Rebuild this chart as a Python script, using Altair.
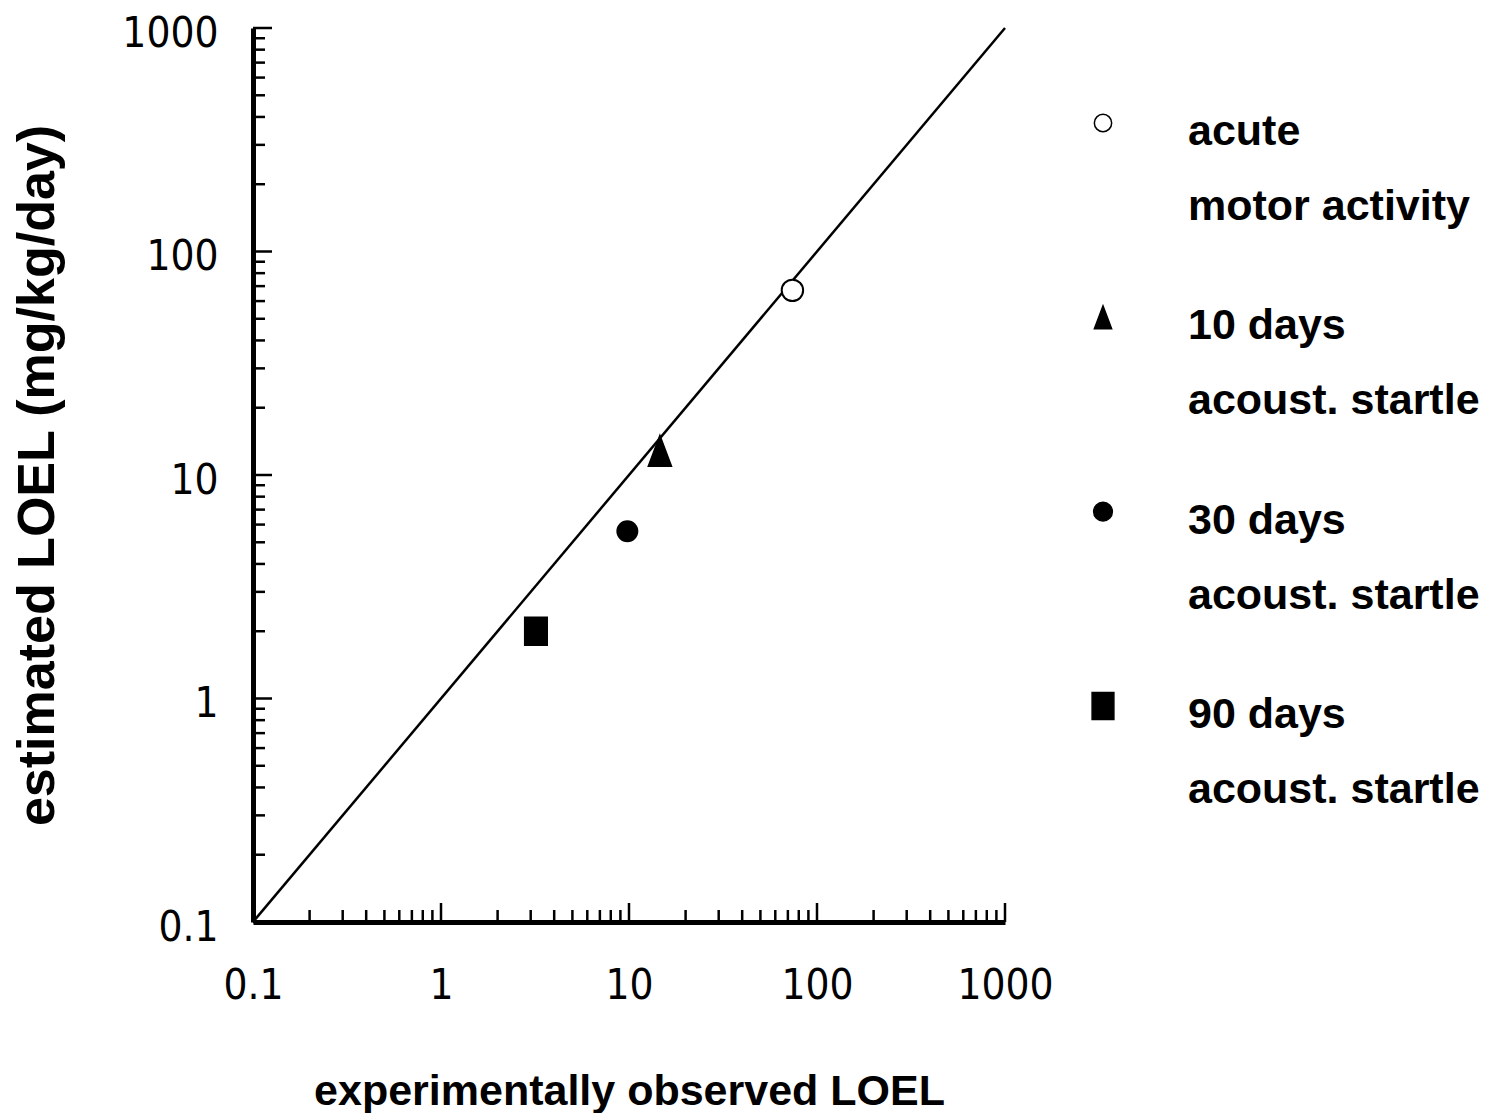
import altair as alt
import pandas as pd

# ---- data ----
series = ["acute", "10 days", "30 days", "90 days"]
series_desc = ["motor activity", "acoust. startle", "acoust. startle", "acoust. startle"]
observed_loel = [74, 14.6, 9.8, 3.2]
estimated_loel = [67, 12.8, 5.6, 2.0]
identity_x = [0.1, 1000]
identity_y = [0.1, 1000]
decade_ticks = [0.1, 1, 10, 100, 1000]
minor_ticks = [round(m * d, 6) for d in decade_ticks[:-1] for m in range(2, 10)]

# ---- styles ----
shape_range = ["circle", "M-0.75,1L0.75,1L0,-1Z", "circle", "M-0.8,-1L0.8,-1L0.8,1L-0.8,1Z"]
fill_range = ["white", "black", "black", "black"]
size_range = [460, 900, 400, 760]
legend_size_range = [300, 530, 350, 740]

W, H = 752, 894
LABEL_FONT = "Liberation Sans Narrow, DejaVu Sans Condensed, sans-serif"
TEXT_FONT = "Liberation Sans, Arial, sans-serif"
XTITLE = "experimentally observed LOEL"
YTITLE = "estimated LOEL (mg/kg/day)"

points = pd.DataFrame({"series": series, "observed": observed_loel, "estimated": estimated_loel})
line = pd.DataFrame({"observed": identity_x, "estimated": identity_y})
major = pd.DataFrame({"v": decade_ticks})
minor = pd.DataFrame({"v": minor_ticks})
legend_df = pd.DataFrame({"series": series, "desc": series_desc})

xscale = alt.Scale(type="log", domain=[0.1, 1000], nice=False)
yscale = alt.Scale(type="log", domain=[0.1, 1000], nice=False)

common_axis = dict(
    values=decade_ticks, format="~g", domain=True, domainColor="black", domainWidth=5,
    ticks=False, tickSize=0, grid=False, labelFont=LABEL_FONT, labelFontSize=42,
    labelColor="black", labelOverlap=False, labelFlush=False,
    titleFont=TEXT_FONT, titleFontWeight="bold", titleColor="black",
)
xaxis = alt.Axis(labelPadding=43, titleFontSize=43, titlePadding=64, **common_axis)
yaxis = alt.Axis(labelPadding=35, titleFontSize=52, titlePadding=57, labelOffset=5, **common_axis)


def X(field):
    return alt.X(f"{field}:Q", scale=xscale, axis=xaxis, title=XTITLE)


def Y(field):
    return alt.Y(f"{field}:Q", scale=yscale, axis=yaxis, title=YTITLE)


identity = alt.Chart(line).mark_line(color="black", strokeWidth=2.5).encode(
    x=X("observed"), y=Y("estimated")
)

point_layers = [
    alt.Chart(points)
    .transform_filter(alt.datum.series == s)
    .mark_point(shape=shape_range[i], size=size_range[i], fill=fill_range[i],
                stroke="black", strokeWidth=2, opacity=1, fillOpacity=1)
    .encode(x=X("observed"), y=Y("estimated"))
    for i, s in enumerate(series)
]

x_major = alt.Chart(major).mark_rule(color="black", strokeWidth=2.5).encode(
    x=X("v"), y=alt.value(H), y2=alt.value(H - 19)
)
x_minor = alt.Chart(minor).mark_rule(color="black", strokeWidth=2.5).encode(
    x=X("v"), y=alt.value(H), y2=alt.value(H - 12)
)
y_major = alt.Chart(major).mark_rule(color="black", strokeWidth=2.5).encode(
    y=Y("v"), x=alt.value(0), x2=alt.value(19)
)
y_minor = alt.Chart(minor).mark_rule(color="black", strokeWidth=2.5).encode(
    y=Y("v"), x=alt.value(0), x2=alt.value(12)
)

main = alt.layer(x_minor, x_major, y_minor, y_major, identity, *point_layers).properties(width=W, height=H)

# ---- legend panel ----
ly = alt.Y("series:N", scale=alt.Scale(type="point", domain=series, range=[95, 678], padding=0), axis=None)
SYM_X = 12
TXT_X = SYM_X + 85
legend_syms = [
    alt.Chart(legend_df)
    .transform_filter(alt.datum.series == s)
    .mark_point(shape=shape_range[i], size=legend_size_range[i], fill=fill_range[i],
                stroke="black", strokeWidth=1.5, opacity=1, fillOpacity=1)
    .encode(x=alt.value(SYM_X), y=ly)
    for i, s in enumerate(series)
]
leg_t1 = alt.Chart(legend_df).mark_text(
    align="left", baseline="middle", font=TEXT_FONT, fontSize=43, fontWeight="bold", color="black", dy=9
).encode(x=alt.value(TXT_X), y=ly, text="series:N")
leg_t2 = alt.Chart(legend_df).mark_text(
    align="left", baseline="middle", font=TEXT_FONT, fontSize=43, fontWeight="bold", color="black", dy=84
).encode(x=alt.value(TXT_X), y=ly, text="desc:N")

legend_panel = alt.layer(*legend_syms, leg_t1, leg_t2).properties(width=300, height=H)

chart = (
    alt.hconcat(main, legend_panel, spacing=35)
    .resolve_scale(x="independent", y="independent")
    .properties(padding={"left": 3, "top": 4, "right": 0, "bottom": 0}, background="white")
    .configure_view(strokeWidth=0, stroke="transparent")
)

chart.save("out.html", embed_options={"renderer": "svg", "actions": False})
